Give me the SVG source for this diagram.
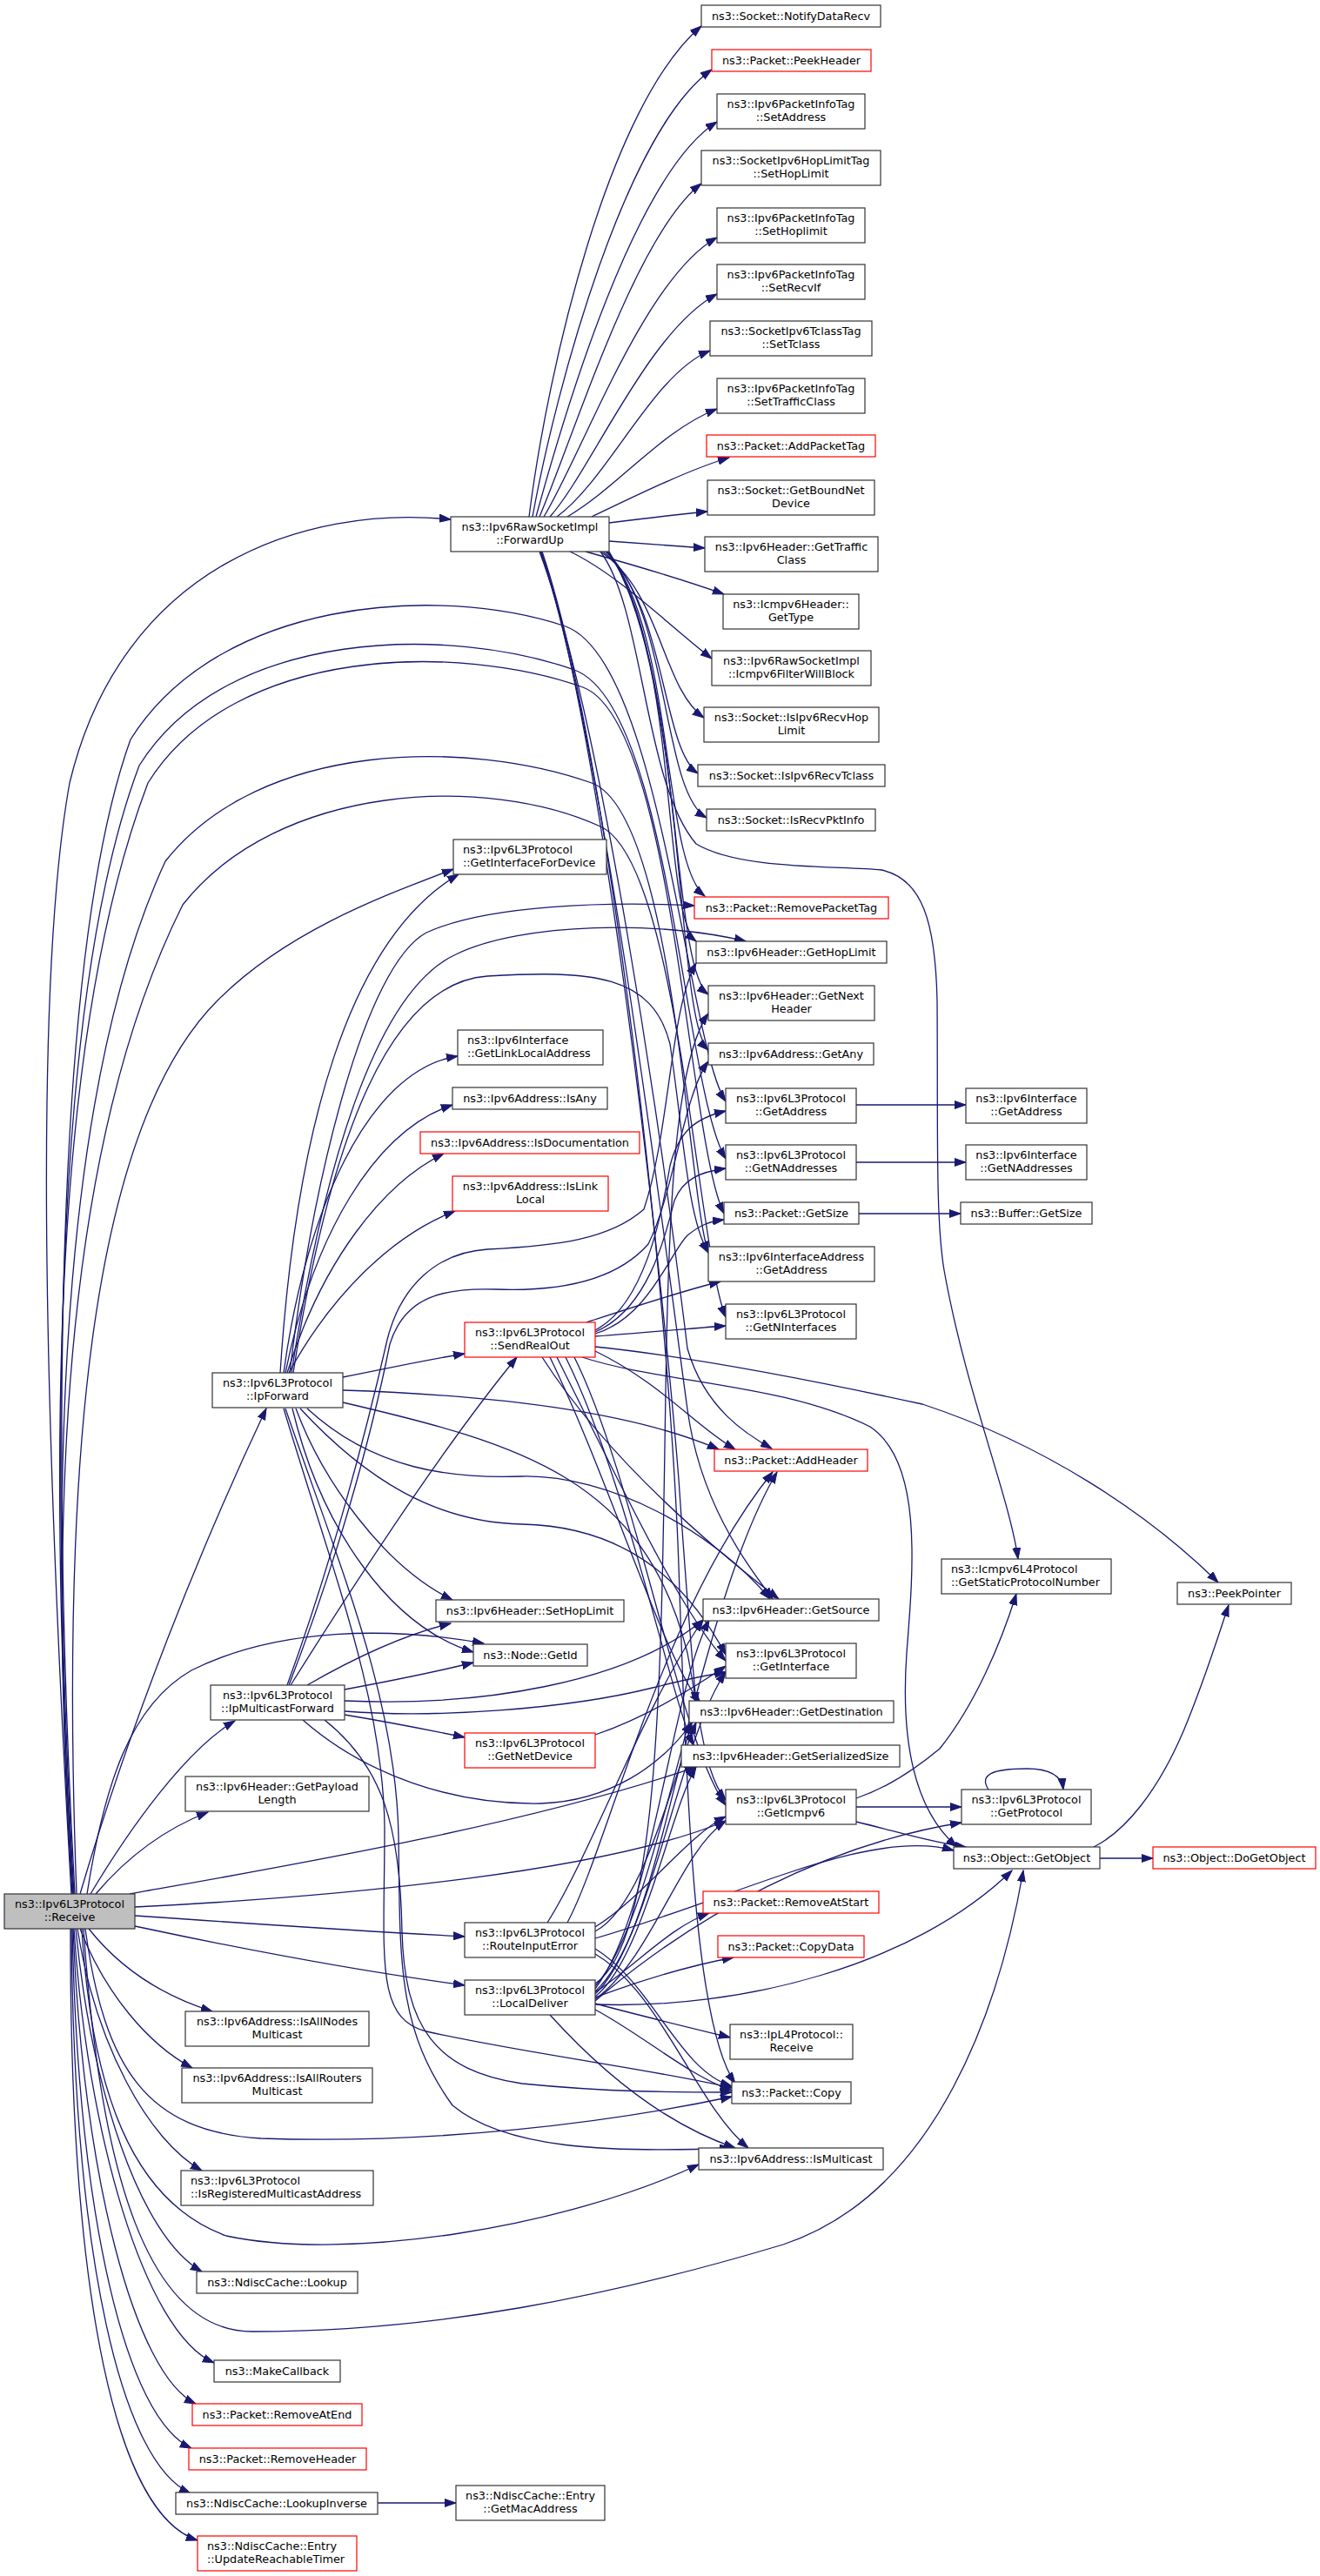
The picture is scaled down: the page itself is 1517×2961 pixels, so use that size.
<svg xmlns="http://www.w3.org/2000/svg" width="1517" height="2961" viewBox="0 0 1517 2961">
<style>
.n rect{fill:#fff;stroke:#333;stroke-width:1.2}
.n.r rect{stroke:#ff0000}
.n.g rect{fill:#bfbfbf}
.n text{font-family:"DejaVu Sans","Liberation Sans",sans-serif;font-size:12.8px;fill:#000;text-anchor:middle}
.n text.l{text-anchor:start}
#edges path{fill:none;stroke:#191970;stroke-width:1.3;marker-end:url(#arr)}
</style>
<defs>
<marker id="arr" markerUnits="userSpaceOnUse" markerWidth="15" markerHeight="11" refX="13" refY="5" orient="auto"><path d="M0,0.5 L13,5 L0,9.5 z" fill="#191970" stroke="#191970" stroke-width="1"/></marker>
</defs>
<rect width="1517" height="2961" fill="#fff"/>
<g id="edges">
<!-- Receive -->
<path d="M82,2177 C55,1700 35,1150 80,900 C140,650 350,580 518,597"/>
<path d="M92,2177 C150,1980 230,1780 306,1619"/>
<path d="M104,2177 C150,2100 215,2010 270,1978"/>
<path d="M110,2177 C150,2130 195,2100 239,2083"/>
<path d="M155,2202 C300,2212 420,2220 534,2226"/>
<path d="M155,2214 C300,2245 430,2268 534,2282"/>
<path d="M102,2217 C140,2265 190,2295 244,2312"/>
<path d="M92,2217 C120,2290 170,2350 221,2377"/>
<path d="M89,2217 C110,2350 170,2460 232,2495"/>
<path d="M87,2217 C105,2400 160,2570 232,2611"/>
<path d="M85,2217 C100,2450 165,2680 246,2716"/>
<path d="M84,2217 C95,2500 155,2730 225,2763"/>
<path d="M83,2217 C90,2550 145,2780 220,2814"/>
<path d="M82,2217 C85,2600 140,2830 219,2866"/>
<path d="M81,2217 C80,2650 135,2890 227,2920"/>
<path d="M96,2217 C115,2500 170,2680 290,2680 C500,2680 700,2640 900,2580 C1080,2520 1150,2300 1176,2150"/>
<path d="M98,2217 C120,2380 170,2450 300,2458 C500,2465 700,2440 841,2410"/>
<path d="M94,2217 C105,2400 150,2530 260,2570 C400,2600 650,2560 803,2488"/>
<path d="M100,2177 C120,2050 150,1960 220,1920 C320,1870 450,1870 556,1889"/>
<path d="M88,2177 C70,1700 100,1300 250,1150 C330,1070 440,1030 521,999"/>
<path d="M86,2177 C60,1700 60,1100 150,850 C250,690 500,670 650,720 C760,760 790,1200 834,1266"/>
<path d="M85,2177 C58,1700 58,1150 160,880 C260,720 520,720 660,770 C770,810 785,1250 834,1332"/>
<path d="M84,2177 C56,1700 56,1200 170,900 C270,740 530,740 670,790 C775,830 790,1310 832,1395"/>
<path d="M84,2177 C54,1700 70,1250 190,990 C300,850 540,850 680,900 C775,935 790,1370 814,1440"/>
<path d="M83,2177 C52,1700 80,1300 210,1040 C320,900 560,890 690,950 C780,990 800,1430 834,1514"/>
<path d="M149,2177 C300,2150 600,2100 800,2031"/>
<path d="M155,2192 C400,2180 700,2150 834,2093"/>
<!-- ForwardUp -->
<path d="M608,594 C630,420 700,120 806,30"/>
<path d="M612,594 C640,440 720,150 818,80"/>
<path d="M616,594 C650,470 730,200 824,140"/>
<path d="M620,594 C660,500 730,270 806,211"/>
<path d="M625,594 C670,520 740,320 824,273"/>
<path d="M632,594 C680,540 745,380 824,338"/>
<path d="M640,594 C700,550 750,430 816,403"/>
<path d="M652,594 C710,560 760,495 824,470"/>
<path d="M680,594 C720,575 790,540 838,526"/>
<path d="M700,601 C740,596 780,591 813,588"/>
<path d="M700,622 C740,625 780,628 810,630"/>
<path d="M673,634 C730,650 790,668 832,683"/>
<path d="M655,634 C710,660 770,720 818,757"/>
<path d="M690,634 C760,680 760,790 809,825"/>
<path d="M693,634 C765,690 760,860 802,889"/>
<path d="M696,634 C770,700 760,910 812,940"/>
<path d="M697,634 C775,720 760,990 810,1030"/>
<path d="M698,634 C780,740 760,1050 800,1082"/>
<path d="M699,634 C785,760 770,1110 814,1143"/>
<path d="M700,634 C790,780 775,1170 814,1207"/>
<path d="M690,634 C740,700 740,900 800,970 C850,1000 960,995 1013,1000 C1060,1010 1075,1060 1077,1150 C1078,1300 1075,1400 1085,1460 C1110,1600 1160,1720 1170,1792"/>
<path d="M620,634 C690,820 760,1300 790,1550 C810,1620 860,1650 887,1665"/>
<path d="M621,634 C690,830 760,1400 790,1620 C805,1730 860,1800 888,1838"/>
<path d="M622,634 C692,840 760,1450 780,1700 C790,1850 795,1900 800,1958"/>
<path d="M623,634 C700,860 770,1500 780,1800 C790,2100 800,2330 845,2395"/>
<!-- IpForward -->
<path d="M394,1583 C450,1572 490,1563 534,1556"/>
<path d="M322,1578 C340,1300 400,1080 527,1005"/>
<path d="M326,1578 C350,1400 420,1230 526,1214"/>
<path d="M328,1578 C360,1420 430,1300 520,1270"/>
<path d="M330,1578 C370,1450 440,1360 510,1326"/>
<path d="M332,1578 C380,1490 450,1420 523,1392"/>
<path d="M333,1578 C360,1350 420,1110 490,1072 C560,1040 700,1036 798,1041"/>
<path d="M335,1578 C370,1350 430,1140 524,1097 C600,1060 760,1058 857,1082"/>
<path d="M337,1578 C380,1300 450,1130 560,1122 C680,1115 750,1120 770,1200 C785,1300 790,1400 814,1440"/>
<path d="M394,1598 C550,1603 720,1620 826,1666"/>
<path d="M394,1612 C600,1660 740,1700 790,1900 C805,1980 810,2040 834,2069"/>
<path d="M353,1619 C430,1690 520,1700 600,1697 C700,1695 820,1760 885,1838"/>
<path d="M345,1619 C420,1700 500,1750 600,1752 C700,1754 780,1800 834,1902"/>
<path d="M340,1619 C370,1700 440,1800 520,1839"/>
<path d="M336,1619 C370,1760 450,1870 544,1899"/>
<path d="M326,1619 C380,1800 440,1950 442,2100 C442,2250 430,2320 490,2335 C600,2360 760,2380 841,2400"/>
<path d="M328,1619 C390,1800 455,1950 458,2110 C460,2250 455,2330 520,2420 C580,2470 700,2475 840,2469"/>
<!-- IpMulticastForward -->
<path d="M334,1937 C420,1800 520,1650 594,1560"/>
<path d="M353,1937 C400,1910 460,1880 518,1866"/>
<path d="M396,1942 C450,1932 500,1922 544,1911"/>
<path d="M396,1971 C450,1980 500,1990 534,1997"/>
<path d="M396,1967 C500,1975 650,1965 750,1940 C790,1930 815,1925 834,1922"/>
<path d="M396,1955 C550,1962 720,1935 808,1862"/>
<path d="M330,1937 C380,1800 420,1650 445,1540 C460,1480 500,1440 560,1436 C640,1432 700,1425 740,1390 C770,1300 770,1160 800,1107"/>
<path d="M332,1937 C385,1800 425,1660 448,1545 C465,1490 510,1480 570,1482 C650,1485 710,1470 745,1430 C775,1370 785,1260 814,1220"/>
<path d="M348,1977 C420,2040 520,2075 622,2073 C700,2070 760,2030 795,1980"/>
<path d="M373,1977 C440,2030 460,2100 462,2220 C465,2330 500,2380 600,2395 C700,2405 780,2405 841,2405"/>
<!-- SendRealOut -->
<path d="M684,1529 C740,1500 760,1400 770,1340 C780,1300 800,1285 834,1277"/>
<path d="M684,1531 C745,1505 765,1420 775,1380 C785,1355 805,1347 834,1343"/>
<path d="M684,1533 C745,1515 770,1440 790,1420 C805,1408 815,1404 832,1402"/>
<path d="M674,1520 C720,1505 780,1485 828,1473"/>
<path d="M684,1536 C740,1532 790,1527 834,1524"/>
<path d="M684,1553 C760,1590 800,1640 845,1666"/>
<path d="M623,1560 C700,1680 820,1780 895,1838"/>
<path d="M640,1560 C710,1700 780,1850 834,1909"/>
<path d="M632,1560 C700,1700 760,1900 805,1958"/>
<path d="M650,1560 C720,1700 770,1950 797,2006"/>
<path d="M660,1560 C730,1700 780,2000 834,2075"/>
<path d="M669,1560 C760,1590 900,1590 1000,1640 C1060,1680 1050,1800 1042,1900 C1035,2000 1050,2080 1100,2123"/>
<path d="M684,1548 C800,1560 950,1590 1060,1614 C1200,1660 1320,1740 1400,1819"/>
<!-- GetNetDevice -->
<path d="M684,1994 C740,1975 790,1945 834,1915"/>
<!-- RouteInputError -->
<path d="M629,2210 C680,2130 740,1960 808,1862"/>
<path d="M652,2210 C700,2120 760,1850 888,1692"/>
<path d="M684,2215 C740,2180 790,2110 834,2088"/>
<path d="M684,2220 C740,2190 770,2050 800,1980"/>
<path d="M684,2240 C750,2280 780,2380 841,2398"/>
<path d="M684,2246 C760,2290 800,2420 860,2469"/>
<path d="M684,2228 C850,2180 1000,2100 1096,2127"/>
<!-- LocalDeliver -->
<path d="M684,2280 C760,2230 760,1900 765,1600 C768,1400 775,1220 814,1165"/>
<path d="M684,2283 C760,2200 800,1850 893,1692"/>
<path d="M684,2286 C750,2200 770,1950 815,1862"/>
<path d="M684,2289 C750,2230 780,2000 834,1922"/>
<path d="M684,2292 C740,2240 770,2060 795,1980"/>
<path d="M684,2295 C740,2250 770,2080 800,2031"/>
<path d="M684,2298 C750,2250 780,2130 834,2093"/>
<path d="M684,2300 C800,2200 950,2120 1105,2095"/>
<path d="M684,2304 C850,2310 1050,2260 1163,2150"/>
<path d="M684,2290 C730,2260 770,2215 815,2199"/>
<path d="M684,2296 C740,2275 790,2260 843,2250"/>
<path d="M684,2303 C740,2318 790,2330 839,2342"/>
<path d="M684,2310 C740,2340 790,2385 841,2403"/>
<path d="M632,2316 C690,2380 760,2440 845,2469"/>
<!-- right side -->
<path d="M984,1270 L1110,1270"/>
<path d="M984,1336 L1110,1336"/>
<path d="M987,1395 L1104,1395"/>
<path d="M984,2067 C1020,2055 1050,2035 1080,2010 C1120,1960 1150,1890 1168,1832"/>
<path d="M984,2077 L1105,2077"/>
<path d="M984,2094 C1030,2105 1070,2118 1110,2123"/>
<path d="M1136,2057 C1125,2040 1140,2033 1180,2033 C1205,2033 1220,2040 1222,2057"/>
<path d="M1257,2123 C1293,2105 1330,2060 1360,1990 C1385,1930 1400,1880 1412,1845"/>
<path d="M1264,2136 L1325,2136"/>
<path d="M434,2877 L524,2877"/>
</g>

<g id="n_receive" class="n g"><rect x="5" y="2177" width="150" height="40"/><text x="80" y="2193">ns3::Ipv6L3Protocol</text><text x="80" y="2207.5">::Receive</text></g>
<g id="n_forwardup" class="n"><rect x="518" y="594" width="182" height="40"/><text x="609" y="610">ns3::Ipv6RawSocketImpl</text><text x="609" y="624.5">::ForwardUp</text></g>
<g id="n_ipforward" class="n"><rect x="244" y="1578" width="150" height="40"/><text x="319" y="1594">ns3::Ipv6L3Protocol</text><text x="319" y="1608.5">::IpForward</text></g>
<g id="n_ipmulticastforward" class="n"><rect x="242" y="1937" width="154" height="40"/><text x="319" y="1953">ns3::Ipv6L3Protocol</text><text x="319" y="1967.5">::IpMulticastForward</text></g>
<g id="n_getpayloadlength" class="n"><rect x="213" y="2042" width="211" height="40"/><text x="318.5" y="2058">ns3::Ipv6Header::GetPayload</text><text x="318.5" y="2072.5">Length</text></g>
<g id="n_isallnodes" class="n"><rect x="213" y="2312" width="211" height="40"/><text x="318.5" y="2328">ns3::Ipv6Address::IsAllNodes</text><text x="318.5" y="2342.5">Multicast</text></g>
<g id="n_isallrouters" class="n"><rect x="209" y="2377" width="219" height="40"/><text x="318.5" y="2393">ns3::Ipv6Address::IsAllRouters</text><text x="318.5" y="2407.5">Multicast</text></g>
<g id="n_isregmcast" class="n"><rect x="208" y="2495" width="221" height="40"/><text class="l" x="219" y="2511">ns3::Ipv6L3Protocol</text><text class="l" x="219" y="2525.5">::IsRegisteredMulticastAddress</text></g>
<g id="n_lookup" class="n"><rect x="226" y="2611" width="185" height="25"/><text x="318.5" y="2627.5">ns3::NdiscCache::Lookup</text></g>
<g id="n_makecallback" class="n"><rect x="246" y="2713" width="145" height="25"/><text x="318.5" y="2729.5">ns3::MakeCallback</text></g>
<g id="n_removeatend" class="n r"><rect x="221" y="2763" width="195" height="25"/><text x="318.5" y="2779.5">ns3::Packet::RemoveAtEnd</text></g>
<g id="n_removeheader" class="n r"><rect x="217" y="2814" width="204" height="25"/><text x="319" y="2830.5">ns3::Packet::RemoveHeader</text></g>
<g id="n_lookupinverse" class="n"><rect x="202" y="2865" width="232" height="25"/><text x="318" y="2881.5">ns3::NdiscCache::LookupInverse</text></g>
<g id="n_updatereachable" class="n r"><rect x="227" y="2915" width="183" height="40"/><text class="l" x="238" y="2931">ns3::NdiscCache::Entry</text><text class="l" x="238" y="2945.5">::UpdateReachableTimer</text></g>
<g id="n_getmacaddress" class="n"><rect x="524" y="2857" width="171" height="40"/><text x="609.5" y="2873">ns3::NdiscCache::Entry</text><text x="609.5" y="2887.5">::GetMacAddress</text></g>

<g id="n_getifacefordevice" class="n"><rect x="521" y="965" width="176" height="40"/><text class="l" x="532" y="981">ns3::Ipv6L3Protocol</text><text class="l" x="532" y="995.5">::GetInterfaceForDevice</text></g>
<g id="n_getlinklocal" class="n"><rect x="526" y="1184" width="167" height="40"/><text class="l" x="537" y="1200">ns3::Ipv6Interface</text><text class="l" x="537" y="1214.5">::GetLinkLocalAddress</text></g>
<g id="n_isany" class="n"><rect x="520" y="1250" width="178" height="25"/><text x="609" y="1266.5">ns3::Ipv6Address::IsAny</text></g>
<g id="n_isdoc" class="n r"><rect x="483" y="1301" width="252" height="25"/><text x="609" y="1317.5">ns3::Ipv6Address::IsDocumentation</text></g>
<g id="n_islinklocal" class="n r"><rect x="520" y="1352" width="179" height="40"/><text x="609.5" y="1368">ns3::Ipv6Address::IsLink</text><text x="609.5" y="1382.5">Local</text></g>
<g id="n_sendrealout" class="n r"><rect x="534" y="1520" width="150" height="40"/><text x="609" y="1536">ns3::Ipv6L3Protocol</text><text x="609" y="1550.5">::SendRealOut</text></g>
<g id="n_sethoplimit" class="n"><rect x="501" y="1839" width="216" height="25"/><text x="609" y="1855.5">ns3::Ipv6Header::SetHopLimit</text></g>
<g id="n_getid" class="n"><rect x="544" y="1890" width="131" height="25"/><text x="609.5" y="1906.5">ns3::Node::GetId</text></g>
<g id="n_getnetdevice" class="n r"><rect x="534" y="1992" width="150" height="40"/><text x="609" y="2008">ns3::Ipv6L3Protocol</text><text x="609" y="2022.5">::GetNetDevice</text></g>
<g id="n_routeinputerror" class="n"><rect x="534" y="2210" width="150" height="40"/><text x="609" y="2226">ns3::Ipv6L3Protocol</text><text x="609" y="2240.5">::RouteInputError</text></g>
<g id="n_localdeliver" class="n"><rect x="534" y="2276" width="150" height="40"/><text x="609" y="2292">ns3::Ipv6L3Protocol</text><text x="609" y="2306.5">::LocalDeliver</text></g>

<g id="n_notifydatarecv" class="n"><rect x="806" y="6" width="206" height="25"/><text x="909" y="22.5">ns3::Socket::NotifyDataRecv</text></g>
<g id="n_peekheader" class="n r"><rect x="818" y="57" width="183" height="25"/><text x="909.5" y="73.5">ns3::Packet::PeekHeader</text></g>
<g id="n_setaddress" class="n"><rect x="824" y="108" width="170" height="40"/><text x="909" y="124">ns3::Ipv6PacketInfoTag</text><text x="909" y="138.5">::SetAddress</text></g>
<g id="n_sethoplimittag" class="n"><rect x="806" y="173" width="206" height="40"/><text x="909" y="189">ns3::SocketIpv6HopLimitTag</text><text x="909" y="203.5">::SetHopLimit</text></g>
<g id="n_sethoplimitinfo" class="n"><rect x="824" y="239" width="170" height="40"/><text x="909" y="255">ns3::Ipv6PacketInfoTag</text><text x="909" y="269.5">::SetHoplimit</text></g>
<g id="n_setrecvif" class="n"><rect x="824" y="304" width="170" height="40"/><text x="909" y="320">ns3::Ipv6PacketInfoTag</text><text x="909" y="334.5">::SetRecvIf</text></g>
<g id="n_settclass" class="n"><rect x="816" y="369" width="186" height="40"/><text x="909" y="385">ns3::SocketIpv6TclassTag</text><text x="909" y="399.5">::SetTclass</text></g>
<g id="n_settrafficclass" class="n"><rect x="824" y="435" width="170" height="40"/><text x="909" y="451">ns3::Ipv6PacketInfoTag</text><text x="909" y="465.5">::SetTrafficClass</text></g>
<g id="n_addpackettag" class="n r"><rect x="812" y="500" width="194" height="25"/><text x="909" y="516.5">ns3::Packet::AddPacketTag</text></g>
<g id="n_getboundnetdevice" class="n"><rect x="813" y="552" width="192" height="40"/><text x="909" y="568">ns3::Socket::GetBoundNet</text><text x="909" y="582.5">Device</text></g>
<g id="n_gettrafficclass" class="n"><rect x="810" y="617" width="199" height="40"/><text x="909.5" y="633">ns3::Ipv6Header::GetTraffic</text><text x="909.5" y="647.5">Class</text></g>
<g id="n_gettype" class="n"><rect x="831" y="683" width="156" height="40"/><text x="909" y="699">ns3::Icmpv6Header::</text><text x="909" y="713.5">GetType</text></g>
<g id="n_filterwillblock" class="n"><rect x="818" y="748" width="183" height="40"/><text x="909.5" y="764">ns3::Ipv6RawSocketImpl</text><text x="909.5" y="778.5">::Icmpv6FilterWillBlock</text></g>
<g id="n_isrecvhoplimit" class="n"><rect x="809" y="813" width="201" height="40"/><text x="909.5" y="829">ns3::Socket::IsIpv6RecvHop</text><text x="909.5" y="843.5">Limit</text></g>
<g id="n_isrecvtclass" class="n"><rect x="802" y="879" width="215" height="25"/><text x="909.5" y="895.5">ns3::Socket::IsIpv6RecvTclass</text></g>
<g id="n_isrecvpktinfo" class="n"><rect x="812" y="930" width="194" height="25"/><text x="909" y="946.5">ns3::Socket::IsRecvPktInfo</text></g>
<g id="n_removepackettag" class="n r"><rect x="798" y="1031" width="223" height="25"/><text x="909.5" y="1047.5">ns3::Packet::RemovePacketTag</text></g>
<g id="n_gethoplimit" class="n"><rect x="800" y="1082" width="219" height="25"/><text x="909.5" y="1098.5">ns3::Ipv6Header::GetHopLimit</text></g>
<g id="n_getnextheader" class="n"><rect x="814" y="1133" width="191" height="40"/><text x="909.5" y="1149">ns3::Ipv6Header::GetNext</text><text x="909.5" y="1163.5">Header</text></g>
<g id="n_getany" class="n"><rect x="814" y="1199" width="190" height="25"/><text x="909" y="1215.5">ns3::Ipv6Address::GetAny</text></g>
<g id="n_l3getaddress" class="n"><rect x="834" y="1251" width="150" height="40"/><text x="909" y="1267">ns3::Ipv6L3Protocol</text><text x="909" y="1281.5">::GetAddress</text></g>
<g id="n_l3getnaddresses" class="n"><rect x="834" y="1316" width="150" height="40"/><text x="909" y="1332">ns3::Ipv6L3Protocol</text><text x="909" y="1346.5">::GetNAddresses</text></g>
<g id="n_packetgetsize" class="n"><rect x="832" y="1382" width="155" height="25"/><text x="909.5" y="1398.5">ns3::Packet::GetSize</text></g>
<g id="n_ifaceaddrgetaddress" class="n"><rect x="814" y="1433" width="191" height="40"/><text x="909.5" y="1449">ns3::Ipv6InterfaceAddress</text><text x="909.5" y="1463.5">::GetAddress</text></g>
<g id="n_getninterfaces" class="n"><rect x="834" y="1499" width="150" height="40"/><text x="909" y="1515">ns3::Ipv6L3Protocol</text><text x="909" y="1529.5">::GetNInterfaces</text></g>
<g id="n_addheader" class="n r"><rect x="821" y="1666" width="176" height="25"/><text x="909" y="1682.5">ns3::Packet::AddHeader</text></g>
<g id="n_getsource" class="n"><rect x="808" y="1838" width="202" height="25"/><text x="909" y="1854.5">ns3::Ipv6Header::GetSource</text></g>
<g id="n_getinterface" class="n"><rect x="834" y="1889" width="150" height="40"/><text x="909" y="1905">ns3::Ipv6L3Protocol</text><text x="909" y="1919.5">::GetInterface</text></g>
<g id="n_getdestination" class="n"><rect x="792" y="1955" width="235" height="25"/><text x="909.5" y="1971.5">ns3::Ipv6Header::GetDestination</text></g>
<g id="n_getserializedsize" class="n"><rect x="783" y="2006" width="251" height="25"/><text x="908.5" y="2022.5">ns3::Ipv6Header::GetSerializedSize</text></g>
<g id="n_geticmpv6" class="n"><rect x="834" y="2057" width="150" height="40"/><text x="909" y="2073">ns3::Ipv6L3Protocol</text><text x="909" y="2087.5">::GetIcmpv6</text></g>
<g id="n_removeatstart" class="n r"><rect x="808" y="2174" width="202" height="25"/><text x="909" y="2190.5">ns3::Packet::RemoveAtStart</text></g>
<g id="n_copydata" class="n r"><rect x="825" y="2225" width="168" height="25"/><text x="909" y="2241.5">ns3::Packet::CopyData</text></g>
<g id="n_ipl4receive" class="n"><rect x="839" y="2327" width="141" height="40"/><text x="909.5" y="2343">ns3::IpL4Protocol::</text><text x="909.5" y="2357.5">Receive</text></g>
<g id="n_packetcopy" class="n"><rect x="841" y="2393" width="137" height="25"/><text x="909.5" y="2409.5">ns3::Packet::Copy</text></g>
<g id="n_ismulticast" class="n"><rect x="803" y="2469" width="212" height="25"/><text x="909" y="2485.5">ns3::Ipv6Address::IsMulticast</text></g>

<g id="n_ifgetaddress" class="n"><rect x="1110" y="1251" width="139" height="40"/><text x="1179.5" y="1267">ns3::Ipv6Interface</text><text x="1179.5" y="1281.5">::GetAddress</text></g>
<g id="n_ifgetnaddresses" class="n"><rect x="1110" y="1316" width="139" height="40"/><text x="1179.5" y="1332">ns3::Ipv6Interface</text><text x="1179.5" y="1346.5">::GetNAddresses</text></g>
<g id="n_buffergetsize" class="n"><rect x="1104" y="1382" width="151" height="25"/><text x="1179.5" y="1398.5">ns3::Buffer::GetSize</text></g>
<g id="n_getstaticprotocolnumber" class="n"><rect x="1082" y="1792" width="195" height="40"/><text class="l" x="1093" y="1808">ns3::Icmpv6L4Protocol</text><text class="l" x="1093" y="1822.5">::GetStaticProtocolNumber</text></g>
<g id="n_getprotocol" class="n"><rect x="1105" y="2057" width="149" height="40"/><text x="1179.5" y="2073">ns3::Ipv6L3Protocol</text><text x="1179.5" y="2087.5">::GetProtocol</text></g>
<g id="n_getobject" class="n"><rect x="1096" y="2123" width="168" height="25"/><text x="1180" y="2139.5">ns3::Object::GetObject</text></g>
<g id="n_peekpointer" class="n"><rect x="1353" y="1819" width="131" height="25"/><text x="1418.5" y="1835.5">ns3::PeekPointer</text></g>
<g id="n_dogetobject" class="n r"><rect x="1325" y="2123" width="187" height="25"/><text x="1418.5" y="2139.5">ns3::Object::DoGetObject</text></g>
</svg>
